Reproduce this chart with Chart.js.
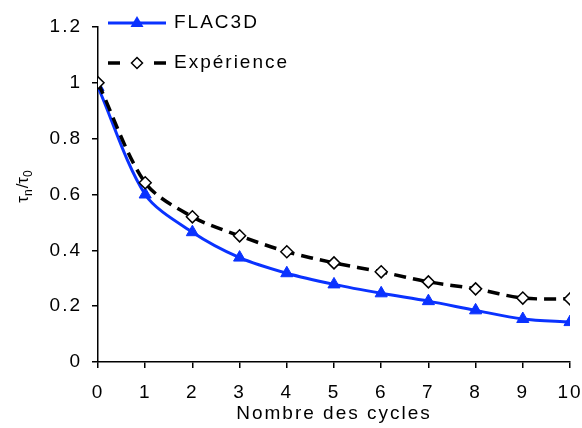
<!DOCTYPE html>
<html>
<head>
<meta charset="utf-8">
<script src="https://cdn.jsdelivr.net/npm/chart.js@4"></script>
<style>
  html, body { margin: 0; padding: 0; background: #fff; }
  #wrap { width: 582px; height: 428px; }
</style>
</head>
<body>
<div id="wrap"><canvas id="c" width="582" height="428"></canvas></div>
<script>
// Cycle numbers and normalised shear stress ratios
const cycles = [0, 1, 2, 3, 4, 5, 6, 7, 8, 9, 10];
const flac3d = [0.985, 0.60, 0.465, 0.374, 0.318, 0.278, 0.246, 0.218, 0.185, 0.154, 0.143];
const experience = [1.0, 0.642, 0.52, 0.452, 0.395, 0.355, 0.323, 0.287, 0.262, 0.229, 0.226];
const yTicks = [0, 0.2, 0.4, 0.6, 0.8, 1, 1.2];
const seriesNames = ['FLAC3D', 'Expérience'];
const yTitleParts = [['τ', 'n'], ['/', ''], ['τ', '0']];

const BLUE = '#0a32ff';
const FONT = 'Liberation Sans, Arial, sans-serif';
const SPACING = '2px';

const toXY = (ys) => cycles.map((c, i) => ({ x: c, y: ys[i] }));

// keeps a little letter spacing on every text the chart draws
const spacingPlugin = {
  id: 'spacing',
  beforeUpdate(chart) { chart.ctx.letterSpacing = SPACING; },
  beforeLayout(chart) { chart.ctx.letterSpacing = SPACING; },
  beforeDraw(chart) { chart.ctx.letterSpacing = SPACING; }
};

// y axis title with real subscripts, drawn rotated
const yTitlePlugin = {
  id: 'yTitle',
  afterDraw(chart) {
    const ctx = chart.ctx;
    const big = '17px ' + FONT, small = '12px ' + FONT;
    ctx.save();
    ctx.letterSpacing = '0px';
    ctx.fillStyle = '#000';
    ctx.textBaseline = 'alphabetic';
    ctx.textAlign = 'left';
    // total width first
    let total = 0;
    yTitleParts.forEach(([m, s]) => {
      ctx.font = big; total += ctx.measureText(m).width;
      if (s) { ctx.font = small; total += ctx.measureText(s).width + 1; }
    });
    ctx.translate(28, 186);
    ctx.rotate(-Math.PI / 2);
    let x = -total / 2;
    yTitleParts.forEach(([m, s]) => {
      ctx.font = big; ctx.fillText(m, x, 0); x += ctx.measureText(m).width;
      if (s) { ctx.font = small; ctx.fillText(s, x, 4); x += ctx.measureText(s).width + 1; }
    });
    ctx.restore();
  }
};

// vertical legend in the upper left corner
const legendPlugin = {
  id: 'cornerLegend',
  afterDraw(chart) {
    const ctx = chart.ctx;
    ctx.save();
    ctx.letterSpacing = SPACING;
    const x0 = 108, x1 = 166, mx = 137, tx = 174;
    // FLAC3D
    let y = 23;
    ctx.strokeStyle = BLUE; ctx.lineWidth = 3; ctx.setLineDash([]);
    ctx.beginPath(); ctx.moveTo(x0, y); ctx.lineTo(x1, y); ctx.stroke();
    ctx.fillStyle = BLUE;
    ctx.beginPath(); ctx.moveTo(mx, y - 7); ctx.lineTo(mx + 6.5, y + 4); ctx.lineTo(mx - 6.5, y + 4); ctx.closePath(); ctx.fill();
    ctx.fillStyle = '#000'; ctx.font = '19px ' + FONT; ctx.textBaseline = 'middle'; ctx.textAlign = 'left';
    ctx.fillText(seriesNames[0], tx, y);
    // Expérience
    y = 63;
    ctx.strokeStyle = '#000'; ctx.lineWidth = 3.5;
    ctx.beginPath(); ctx.moveTo(x0, y); ctx.lineTo(x0 + 12, y); ctx.moveTo(x1 - 12, y); ctx.lineTo(x1, y); ctx.stroke();
    ctx.lineWidth = 1.5; ctx.fillStyle = '#fff';
    ctx.beginPath(); ctx.moveTo(mx, y - 5.5); ctx.lineTo(mx + 5.5, y); ctx.lineTo(mx, y + 5.5); ctx.lineTo(mx - 5.5, y); ctx.closePath(); ctx.fill(); ctx.stroke();
    ctx.fillStyle = '#000';
    ctx.fillText(seriesNames[1], tx, y);
    ctx.restore();
  }
};

new Chart(document.getElementById('c'), {
  type: 'line',
  data: {
    datasets: [
      {
        label: seriesNames[1],
        data: toXY(experience),
        borderColor: '#000',
        borderWidth: 3.5,
        borderDash: [12, 7],
        tension: 0.3,
        pointStyle: 'rectRot',
        pointRadius: 6,
        pointBackgroundColor: '#fff',
        pointBorderColor: '#000',
        pointBorderWidth: 1.5,
        order: 1
      },
      {
        label: seriesNames[0],
        data: toXY(flac3d),
        borderColor: BLUE,
        borderWidth: 3,
        tension: 0.3,
        pointStyle: 'triangle',
        pointRadius: 7,
        pointBackgroundColor: BLUE,
        pointBorderColor: BLUE,
        pointBorderWidth: 1,
        order: 2
      }
    ]
  },
  options: {
    responsive: false,
    animation: false,
    devicePixelRatio: 1,
    layout: { padding: { top: 27, right: 12, left: 0, bottom: 0 } },
    plugins: { legend: { display: false }, tooltip: { enabled: false } },
    scales: {
      x: {
        type: 'linear',
        min: 0, max: 10,
        ticks: { stepSize: 1, color: '#000', font: { family: FONT, size: 19 }, padding: 13, maxRotation: 0 },
        grid: { drawOnChartArea: false, drawTicks: true, tickLength: 6, color: '#000', lineWidth: 1.5 },
        border: { display: true, color: '#000', width: 1.5 },
        title: { display: true, text: 'Nombre des cycles', color: '#000', font: { family: FONT, size: 19 }, padding: { top: 0, bottom: 3 } },
        afterFit(s) { s.height = 66; s.paddingLeft = 0; s.paddingRight = 0; }
      },
      y: {
        min: 0, max: 1.2,
        afterBuildTicks(s) { s.ticks = yTicks.map(v => ({ value: v })); },
        ticks: { color: '#000', font: { family: FONT, size: 19 }, padding: 10, callback: v => String(Math.round(v * 10) / 10) },
        grid: { drawOnChartArea: false, drawTicks: true, tickLength: 6, color: '#000', lineWidth: 1.5 },
        border: { display: true, color: '#000', width: 1.5 },
        title: { display: false },
        afterFit(s) { s.width = 98; s.paddingTop = 0; s.paddingBottom = 0; }
      }
    }
  },
  plugins: [spacingPlugin, legendPlugin, yTitlePlugin]
});
</script>
</body>
</html>
